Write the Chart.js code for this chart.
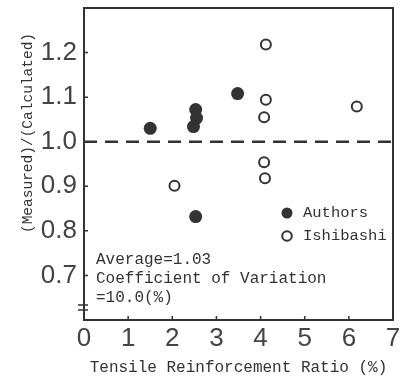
<!DOCTYPE html>
<html>
<head>
<meta charset="utf-8">
<script src="https://cdn.jsdelivr.net/npm/chart.js@4/dist/chart.umd.min.js"></script>
<style>
  html, body { margin: 0; padding: 0; background: #fff; }
  #wrap { width: 401px; height: 381px; }
</style>
</head>
<body>
<div id="wrap"><canvas id="chart" width="401" height="381"></canvas></div>
<script>
// values
const authorsX = [1.5, 2.48, 2.55, 2.53, 3.48, 2.53];
const authorsY = [1.03, 1.034, 1.053, 1.072, 1.108, 0.832];
const ishibashiX = [4.12, 4.12, 4.08, 4.08, 4.1, 2.05, 6.18];
const ishibashiY = [1.218, 1.094, 1.055, 0.954, 0.918, 0.901, 1.079];
const refLineX = [0, 7];
const refLineY = [1.0, 1.0];
const xTicks = [0, 1, 2, 3, 4, 5, 6, 7];
const yTicks = [0.7, 0.8, 0.9, 1.0, 1.1, 1.2];
const seriesNames = ['Authors', 'Ishibashi'];
const noteLines = ['Average=1.03', 'Coefficient of Variation', '=10.0(%)'];
const xTitle = 'Tensile Reinforcement Ratio (%)';
const yTitle = '(Measured)/(Calculated)';

const ink = '#333';
const mono = '"Liberation Mono", "DejaVu Sans Mono", monospace';

const toPts = (xs, ys) => xs.map((x, i) => ({ x: x, y: ys[i] }));

// box, inward ticks, axis break, legend, notes, y title
const decorations = {
    id: 'decorations',
    afterDraw(chart) {
        const ctx = chart.ctx;
        const a = chart.chartArea;
        const xs = chart.scales.x, ys = chart.scales.y;
        ctx.save();
        ctx.strokeStyle = ink;
        ctx.lineWidth = 2;
        ctx.strokeRect(a.left, a.top, a.right - a.left, a.bottom - a.top);

        ctx.lineWidth = 1.5;
        ctx.beginPath();
        xTicks.forEach(t => {
            const px = xs.getPixelForValue(t);
            ctx.moveTo(px, a.bottom);
            ctx.lineTo(px, a.bottom - 4);
        });
        yTicks.forEach(t => {
            const py = ys.getPixelForValue(t);
            ctx.moveTo(a.left, py);
            ctx.lineTo(a.left + 4, py);
        });
        ctx.stroke();

        // broken axis mark
        ctx.beginPath();
        ctx.moveTo(a.left - 6, a.bottom - 15); ctx.lineTo(a.left + 4, a.bottom - 15);
        ctx.moveTo(a.left - 6, a.bottom - 10); ctx.lineTo(a.left + 4, a.bottom - 10);
        ctx.stroke();

        // legend
        const lx = 287, ly = [213, 236];
        ctx.fillStyle = ink;
        ctx.beginPath(); ctx.arc(lx, ly[0], 5.5, 0, Math.PI * 2); ctx.fill();
        ctx.lineWidth = 2;
        ctx.beginPath(); ctx.arc(lx, ly[1], 4.8, 0, Math.PI * 2); ctx.stroke();
        ctx.font = '15.5px ' + mono;
        ctx.textAlign = 'left';
        ctx.textBaseline = 'middle';
        ctx.fillText(seriesNames[0], 303, ly[0]);
        ctx.fillText(seriesNames[1], 303, ly[1]);

        // notes
        ctx.font = '16px ' + mono;
        noteLines.forEach((s, i) => ctx.fillText(s, 96, 260 + i * 19));

        // y title
        ctx.translate(28, 133);
        ctx.rotate(-Math.PI / 2);
        ctx.textAlign = 'center';
        ctx.font = '14.5px ' + mono;
        ctx.fillText(yTitle, 0, 0);
        ctx.restore();
    }
};

new Chart(document.getElementById('chart'), {
    type: 'scatter',
    data: {
        datasets: [
            {
                label: seriesNames[0],
                data: toPts(authorsX, authorsY),
                pointRadius: 6.5,
                pointBackgroundColor: ink,
                pointBorderColor: ink,
                pointBorderWidth: 0
            },
            {
                label: seriesNames[1],
                data: toPts(ishibashiX, ishibashiY),
                pointRadius: 5,
                pointBackgroundColor: '#fff',
                pointBorderColor: ink,
                pointBorderWidth: 2
            },
            {
                label: 'ref',
                type: 'line',
                data: toPts(refLineX, refLineY),
                borderColor: ink,
                borderWidth: 2.5,
                borderDash: [13, 8],
                pointRadius: 0,
                fill: false
            }
        ]
    },
    options: {
        responsive: false,
        animation: false,
        events: [],
        layout: { padding: { top: 8, right: 8, left: 0, bottom: 0 } },
        plugins: { legend: { display: false }, tooltip: { enabled: false } },
        scales: {
            x: {
                type: 'linear',
                min: 0, max: 7,
                afterBuildTicks: s => { s.ticks = xTicks.map(v => ({ value: v })); },
                afterFit: s => { s.height = 61; s.paddingLeft = 0; s.paddingRight = 0; },
                grid: { display: false, drawTicks: false },
                border: { display: false },
                ticks: {
                    padding: 3,
                    color: '#444',
                    font: { family: '"Liberation Sans", Arial, sans-serif', size: 26 },
                    callback: v => String(v)
                },
                title: {
                    display: true,
                    text: xTitle,
                    color: ink,
                    font: { family: mono, size: 16 },
                    padding: { top: 0, bottom: 3.5 }
                }
            },
            y: {
                type: 'linear',
                min: 0.6, max: 1.3,
                afterBuildTicks: s => { s.ticks = yTicks.map(v => ({ value: v })); },
                afterFit: s => { s.width = 84; s.paddingTop = 0; s.paddingBottom = 0; },
                grid: { display: false, drawTicks: false },
                border: { display: false },
                ticks: {
                    padding: 7,
                    color: '#444',
                    font: { family: '"Liberation Sans", Arial, sans-serif', size: 26 },
                    callback: v => v.toFixed(1)
                }
            }
        }
    },
    plugins: [decorations]
});
</script>
</body>
</html>
